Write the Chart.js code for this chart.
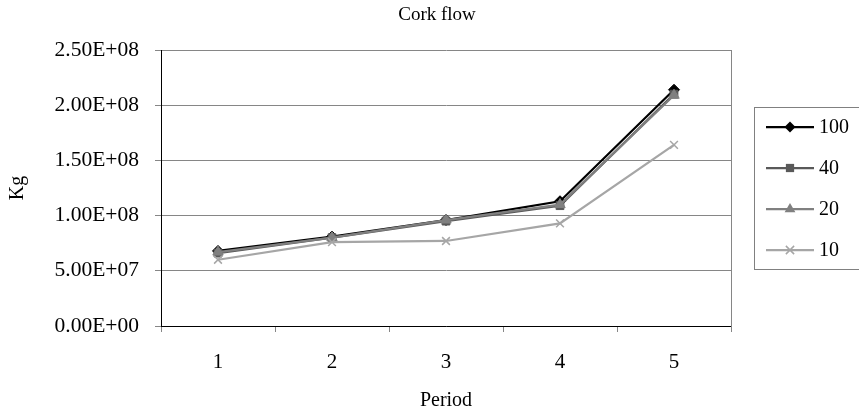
<!DOCTYPE html>
<html>
<head>
<meta charset="utf-8">
<title>Cork flow</title>
<script src="https://cdn.jsdelivr.net/npm/chart.js@4.4.0/dist/chart.umd.min.js"></script>
<style>
  html, body { margin: 0; padding: 0; background: #fff; }
  #wrap { width: 859px; height: 417px; }
</style>
</head>
<body>
<div id="wrap"><canvas id="corkChart" width="859" height="417"></canvas></div>
<script>
// data
const periods = ['1', '2', '3', '4', '5'];
const series100 = [6.8e7, 8.1e7, 9.6e7, 1.13e8, 2.14e8];
const series40 = [6.6e7, 8.0e7, 9.5e7, 1.09e8, 2.10e8];
const series20 = [6.7e7, 8.0e7, 9.6e7, 1.10e8, 2.09e8];
const series10 = [6.0e7, 7.6e7, 7.7e7, 9.3e7, 1.64e8];
const seriesNames = ['100', '40', '20', '10'];
const yTicks = [0, 5e7, 1e8, 1.5e8, 2e8, 2.5e8];

const serif = '"Liberation Serif", "Times New Roman", serif';
Chart.defaults.font.family = serif;
Chart.defaults.font.size = 20;
Chart.defaults.color = '#000';

function sci(v) {
    if (v === 0) return '0.00E+00';
    const parts = v.toExponential(2).split('e');
    const n = parseInt(parts[1], 10);
    return parts[0] + 'E' + (n < 0 ? '-' : '+') + String(Math.abs(n)).padStart(2, '0');
}

const styles = [
    { color: '#000000', point: 'rectRot', radius: 5.5 },
    { color: '#595959', point: 'rect', radius: 5.5 },
    { color: '#808080', point: 'triangle', radius: 6 },
    { color: '#a6a6a6', point: 'crossRot', radius: 5.5 }
];

function drawMarker(ctx, style, x, y) {
    const r = style.radius;
    ctx.save();
    ctx.fillStyle = style.color;
    ctx.strokeStyle = style.color;
    ctx.lineWidth = 1.5;
    ctx.beginPath();
    if (style.point === 'rectRot') {
        ctx.moveTo(x, y - r); ctx.lineTo(x + r, y); ctx.lineTo(x, y + r); ctx.lineTo(x - r, y);
        ctx.closePath(); ctx.fill();
    } else if (style.point === 'rect') {
        ctx.rect(x - r * 0.75, y - r * 0.75, r * 1.5, r * 1.5); ctx.fill();
    } else if (style.point === 'triangle') {
        ctx.moveTo(x, y - r); ctx.lineTo(x + r * 0.9, y + r * 0.55); ctx.lineTo(x - r * 0.9, y + r * 0.55);
        ctx.closePath(); ctx.fill();
    } else {
        const d = r * 0.75;
        ctx.moveTo(x - d, y - d); ctx.lineTo(x + d, y + d);
        ctx.moveTo(x + d, y - d); ctx.lineTo(x - d, y + d);
        ctx.stroke();
    }
    ctx.restore();
}

const extras = {
    id: 'extras',
    beforeDatasetsDraw(chart) {
        const { ctx, chartArea } = chart;
        ctx.save();
        ctx.strokeStyle = '#868686';
        ctx.lineWidth = 1;
        ctx.beginPath();
        ctx.moveTo(Math.round(chartArea.right) + 0.5, chartArea.top);
        ctx.lineTo(Math.round(chartArea.right) + 0.5, chartArea.bottom + 6);
        ctx.stroke();
        ctx.restore();
    },
    afterDraw(chart) {
        const ctx = chart.ctx;
        ctx.save();
        // title
        ctx.fillStyle = '#000';
        ctx.font = '19px ' + serif;
        ctx.textAlign = 'center';
        ctx.textBaseline = 'middle';
        ctx.fillText('Cork flow', 437, 15);

        // legend box, right side runs off the canvas like the original
        ctx.strokeStyle = '#808080';
        ctx.lineWidth = 1;
        ctx.strokeRect(754.5, 107.5, 110, 162);
        ctx.font = '20px ' + serif;
        ctx.textAlign = 'left';
        seriesNames.forEach((name, i) => {
            const y = 127 + i * 41;
            const st = styles[i];
            ctx.strokeStyle = st.color;
            ctx.lineWidth = 2.25;
            ctx.beginPath();
            ctx.moveTo(766, y);
            ctx.lineTo(814, y);
            ctx.stroke();
            drawMarker(ctx, st, 790, y);
            ctx.fillStyle = '#000';
            ctx.fillText(name, 819, y + 1);
        });
        ctx.restore();
    }
};

function makeSet(label, data, i) {
    const st = styles[i];
    return {
        label: label,
        data: data,
        borderColor: st.color,
        backgroundColor: st.color,
        pointBackgroundColor: st.color,
        pointBorderColor: st.color,
        pointStyle: st.point,
        pointRadius: st.radius,
        pointBorderWidth: st.point === 'crossRot' ? 1.5 : 1,
        borderWidth: 2.25,
        tension: 0,
        fill: false,
        order: 4 - i
    };
}

const ctx = document.getElementById('corkChart').getContext('2d');
const graph = new Chart(ctx, {
    type: 'line',
    data: {
        labels: periods,
        datasets: [
            makeSet(seriesNames[0], series100, 0),
            makeSet(seriesNames[1], series40, 1),
            makeSet(seriesNames[2], series20, 2),
            makeSet(seriesNames[3], series10, 3)
        ]
    },
    options: {
        responsive: false,
        animation: false,
        layout: { padding: { top: 50, right: 128, left: 0, bottom: 0 } },
        plugins: {
            legend: { display: false },
            title: { display: false },
            tooltip: { enabled: false }
        },
        scales: {
            x: {
                offset: true,
                grid: {
                    offset: true,
                    drawOnChartArea: false,
                    drawTicks: true,
                    tickLength: 6,
                    tickColor: '#868686'
                },
                border: { color: '#000', width: 1 },
                ticks: { padding: 18, maxRotation: 0, font: { size: 21 } },
                title: { display: true, text: 'Period', padding: { top: 0, bottom: 4 } },
                afterFit(scale) { scale.height = 91; }
            },
            y: {
                min: 0,
                max: 2.5e8,
                afterBuildTicks(scale) { scale.ticks = yTicks.map(v => ({ value: v })); },
                grid: {
                    color: '#868686',
                    tickColor: '#868686',
                    tickLength: 6
                },
                border: { color: '#000', width: 1 },
                ticks: { padding: 16, font: { size: 21.5 }, callback: v => sci(v) },
                title: { display: true, text: 'Kg', padding: { top: 6, bottom: 0 } },
                afterFit(scale) { scale.width = 161; }
            }
        }
    },
    plugins: [extras]
});
</script>
</body>
</html>
